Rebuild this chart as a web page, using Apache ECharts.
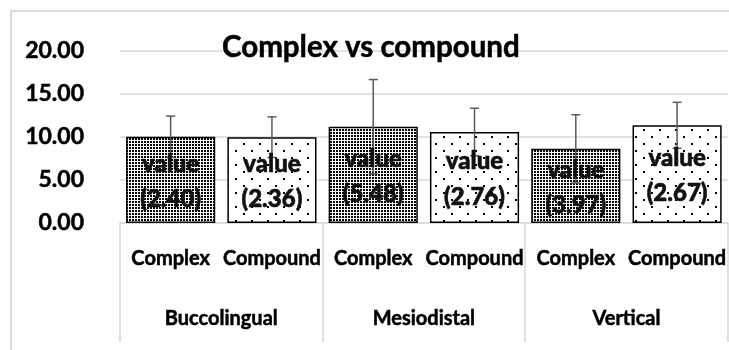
<!DOCTYPE html>
<html>
<head>
<meta charset="utf-8">
<script src="https://cdn.jsdelivr.net/npm/echarts@6/dist/echarts.min.js"></script>
<style>html,body{margin:0;padding:0;background:#fff}#c{width:729px;height:350px}</style>
</head>
<body>
<div id="c"></div>
<script>
var subCategories = ['Complex','Compound','Complex','Compound','Complex','Compound'];
var groupCategories = ['Buccolingual','Mesiodistal','Vertical'];
var means = [10.03, 9.98, 11.20, 10.58, 8.62, 11.36];
var sds = [2.40, 2.36, 5.48, 2.76, 3.97, 2.67];
var yTicks = [0, 5, 10, 15, 20];

function makePattern(w, h, dots, size, color) {
  var cv = document.createElement('canvas');
  cv.width = w; cv.height = h;
  var ctx = cv.getContext('2d');
  ctx.fillStyle = '#fff';
  ctx.fillRect(0, 0, w, h);
  ctx.fillStyle = color;
  dots.forEach(function (d) { ctx.fillRect(d[0], d[1], size, size); });
  return cv;
}
var densePat = makePattern(3, 3, [[0,0]], 2, '#000');
var sparsePat = makePattern(16, 14, [[3,3],[11,10]], 2, '#000');

var FONT = 'Lato';
var heavy = { fontFamily: FONT, fontWeight: 'bold', color: '#000', textBorderColor: '#000', textBorderWidth: 0.5 };
var barData = means.map(function (m, i) {
  return {
    value: m,
    itemStyle: {
      color: { image: subCategories[i] === 'Complex' ? densePat : sparsePat, repeat: 'repeat' },
      borderColor: '#000',
      borderWidth: 1.5
    }
  };
});
var errData = means.map(function (m, i) { return [i, m, sds[i]]; });

var chart = echarts.init(document.getElementById('c'), null, { renderer: 'canvas' });
chart.setOption({
  animation: false,
  backgroundColor: '#fff',
  title: {
    text: 'Complex vs compound',
    left: 222, top: 32, padding: 0,
    textStyle: Object.assign({ fontSize: 29.5, lineHeight: 30 }, heavy)
  },
  graphic: [{
    type: 'rect', z: -10, silent: true,
    shape: { x: 11, y: 11, width: 900, height: 500 },
    style: { fill: 'none', stroke: '#cfcfcf', lineWidth: 1.5 }
  }],
  grid: { left: 120, right: -3, top: 51, bottom: 127 },
  xAxis: [{
    type: 'category',
    data: subCategories,
    axisLine: { show: true, lineStyle: { color: '#d9d9d9', width: 1.5 } },
    axisTick: { show: false },
    axisLabel: Object.assign({ interval: 0, margin: 25.5, fontSize: 20 }, heavy)
  }, {
    type: 'category',
    data: groupCategories,
    position: 'bottom',
    axisLine: { show: false },
    axisTick: { show: true, length: 119, interval: 0, lineStyle: { color: '#d9d9d9', width: 1.5 } },
    axisLabel: Object.assign({ interval: 0, margin: 85.5, fontSize: 20 }, heavy)
  }],
  yAxis: {
    type: 'value', min: yTicks[0], max: yTicks[yTicks.length - 1], interval: 5,
    axisLine: { show: false }, axisTick: { show: false },
    splitLine: { lineStyle: { color: '#d9d9d9', width: 1.5 } },
    axisLabel: Object.assign({
      margin: 36, fontSize: 23,
      formatter: function (v) { return v.toFixed(2); }
    }, heavy)
  },
  series: [{
    type: 'bar', xAxisIndex: 0, z: 2,
    barWidth: '88%',
    data: barData
  }, {
    type: 'custom', xAxisIndex: 0, z: 3,
    data: errData,
    renderItem: function (params, api) {
      var x = api.value(0), m = api.value(1), s = api.value(2);
      var hi = api.coord([x, m + s]);
      var lo = api.coord([x, m - s]);
      var mid = api.coord([x, m / 2]);
      var cw = 4.5;
      var st = { stroke: '#5a5a5a', lineWidth: 1.5 };
      var ts = { fontFamily: FONT, fontWeight: 900, fontSize: 24, fill: '#111',
                 stroke: '#111', lineWidth: 0.6, align: 'center', verticalAlign: 'middle' };
      return { type: 'group', children: [
        { type: 'line', shape: { x1: hi[0], y1: hi[1], x2: lo[0], y2: lo[1] }, style: st },
        { type: 'line', shape: { x1: hi[0] - cw, y1: hi[1], x2: hi[0] + cw, y2: hi[1] }, style: st },
        { type: 'line', shape: { x1: lo[0] - cw, y1: lo[1], x2: lo[0] + cw, y2: lo[1] }, style: st },
        { type: 'text', style: Object.assign({ text: 'value', x: mid[0], y: mid[1] - 16 }, ts) },
        { type: 'text', style: Object.assign({ text: '(' + s.toFixed(2) + ')', x: mid[0], y: mid[1] + 19.5 }, ts) }
      ]};
    }
  }]
});
</script>
</body>
</html>
